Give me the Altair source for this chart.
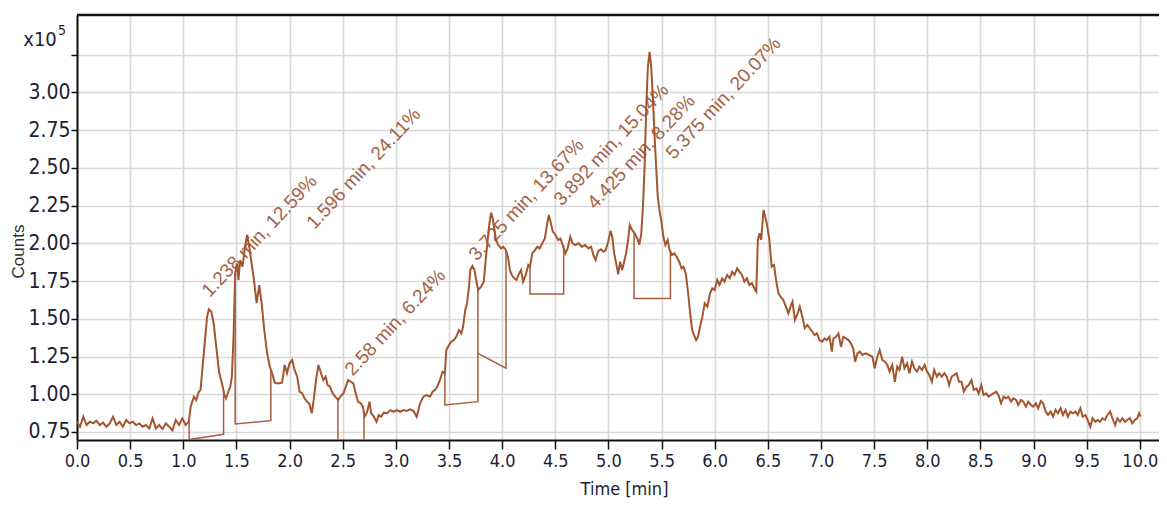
import altair as alt
import pandas as pd

# ---- chromatogram trace (time in min, counts in units of 1e5) ----
time_min = [
    0.0, 0.028, 0.059, 0.09, 0.121, 0.152, 0.183, 0.214, 0.245, 0.276, 0.308, 0.339, 0.37, 0.401,
    0.432, 0.463, 0.494, 0.525, 0.556, 0.587, 0.618, 0.649, 0.68, 0.711, 0.742, 0.774, 0.805, 0.836,
    0.867, 0.898, 0.929, 0.96, 0.991, 1.022, 1.053,
    1.069, 1.100, 1.122, 1.146, 1.162, 1.193, 1.224, 1.240, 1.264, 1.286, 1.317, 1.339, 1.364, 1.386,
    1.401, 1.420, 1.442, 1.457, 1.473, 1.488, 1.504, 1.519, 1.535, 1.557, 1.581, 1.600, 1.621, 1.643,
    1.665, 1.690, 1.715, 1.737, 1.762, 1.789, 1.814, 1.836, 1.861, 1.892, 1.929, 1.954, 1.976, 2.000,
    2.025, 2.047, 2.072, 2.094, 2.119, 2.141, 2.165, 2.187, 2.209, 2.227, 2.249, 2.271, 2.296, 2.318,
    2.339, 2.358, 2.380, 2.405, 2.429, 2.457, 2.482, 2.507, 2.529, 2.551, 2.575, 2.600, 2.622, 2.644,
    2.669, 2.690, 2.706, 2.731, 2.752, 2.768, 2.793, 2.818, 2.839, 2.861, 2.886, 2.917, 2.948, 2.979,
    3.010, 3.041, 3.072, 3.103, 3.134, 3.165, 3.196,
    3.228, 3.259, 3.290, 3.321, 3.346, 3.368, 3.389, 3.414, 3.439, 3.461, 3.475, 3.500, 3.522, 3.545,
    3.569, 3.594, 3.616, 3.632, 3.653, 3.669, 3.688, 3.700, 3.720, 3.740, 3.756, 3.774, 3.802, 3.827,
    3.848, 3.864, 3.880, 3.896, 3.911, 3.927, 3.942, 3.964, 3.989, 4.011, 4.036, 4.054, 4.073, 4.091,
    4.113, 4.135, 4.160, 4.178, 4.197, 4.222, 4.246, 4.262, 4.284, 4.309, 4.331, 4.353, 4.377, 4.402,
    4.424, 4.439, 4.455, 4.477, 4.502, 4.527, 4.548, 4.570, 4.595, 4.616, 4.641, 4.663, 4.688, 4.719,
    4.750, 4.781, 4.812, 4.837, 4.859, 4.879, 4.905, 4.930, 4.952, 4.974, 4.998, 5.020, 5.036, 5.054,
    5.073, 5.092, 5.110, 5.129, 5.148, 5.166, 5.185, 5.200, 5.222, 5.247, 5.272, 5.290, 5.309, 5.325,
    5.340, 5.356, 5.371, 5.387, 5.402, 5.418, 5.433, 5.449, 5.464, 5.480, 5.496, 5.517, 5.536, 5.557,
    5.576, 5.597, 5.619, 5.641, 5.666, 5.688, 5.706, 5.728, 5.750, 5.769, 5.788, 5.806, 5.825, 5.843,
    5.862, 5.884, 5.906, 5.931, 5.956, 5.977, 5.999, 6.024, 6.046, 6.070, 6.092, 6.117, 6.142, 6.164,
    6.186, 6.211, 6.232, 6.257, 6.279, 6.303, 6.325, 6.350, 6.372, 6.391, 6.406, 6.421, 6.437, 6.459,
    6.490, 6.514, 6.536, 6.558, 6.577, 6.599, 6.620, 6.645, 6.670, 6.692, 6.713, 6.732, 6.754, 6.775,
    6.800, 6.825, 6.847, 6.872, 6.894, 6.918, 6.940, 6.962, 6.986, 7.011, 7.033, 7.055, 7.080, 7.102,
    7.117, 7.142, 7.164, 7.188, 7.210, 7.235, 7.259, 7.281, 7.303, 7.321, 7.343, 7.365, 7.390, 7.421,
    7.452, 7.483, 7.505, 7.530, 7.552, 7.577, 7.601, 7.624, 7.645, 7.670, 7.695, 7.717, 7.738, 7.763,
    7.785, 7.810, 7.832, 7.856, 7.878, 7.903, 7.925, 7.950, 7.975, 7.997, 8.018, 8.043, 8.065, 8.090,
    8.111, 8.136, 8.161, 8.183, 8.205, 8.229, 8.254, 8.276, 8.298, 8.322, 8.344, 8.369, 8.390, 8.415,
    8.437, 8.462, 8.483, 8.508, 8.530, 8.555, 8.576, 8.601, 8.623, 8.647, 8.669, 8.694, 8.719, 8.741,
    8.763, 8.788, 8.810, 8.835, 8.856, 8.881, 8.903, 8.928, 8.950, 8.975, 8.997, 9.022, 9.043, 9.068,
    9.090, 9.114, 9.136, 9.161, 9.183, 9.207, 9.229, 9.254, 9.276, 9.301, 9.322, 9.347, 9.369, 9.394,
    9.415, 9.440, 9.462, 9.487, 9.508, 9.533, 9.555, 9.580, 9.602, 9.626, 9.648, 9.673, 9.695, 9.720,
    9.742, 9.767, 9.789, 9.813, 9.835, 9.860, 9.882, 9.906, 9.928, 9.953, 9.975, 9.993, 10.005,
]
counts_e5 = [
    0.818, 0.785, 0.851, 0.796, 0.818, 0.807, 0.825, 0.796, 0.812, 0.785, 0.807, 0.851, 0.796, 0.818,
    0.785, 0.829, 0.807, 0.818, 0.796, 0.807, 0.785, 0.796, 0.774, 0.840, 0.774, 0.796, 0.770, 0.807,
    0.785, 0.760, 0.829, 0.796, 0.840, 0.796, 0.820,
    0.918, 0.984, 0.962, 1.017, 1.028, 1.271, 1.514, 1.563, 1.547, 1.470, 1.271, 1.139, 1.072, 0.995,
    0.973, 1.010, 1.050, 1.116, 1.381, 1.801, 1.867, 1.756, 1.889, 1.845, 1.977, 2.055, 1.977, 1.867,
    1.756, 1.603, 1.723, 1.603, 1.425, 1.271, 1.183, 1.139, 1.077, 1.072, 1.077, 1.194, 1.139, 1.205,
    1.227, 1.161, 1.116, 1.017, 1.006, 0.973, 0.951, 0.935, 0.874, 0.962, 1.094, 1.194, 1.139, 1.094,
    1.116, 1.061, 1.050, 1.006, 0.984, 0.962, 0.988, 1.006, 1.050, 1.094, 1.083, 1.072, 1.006, 0.951,
    0.940, 0.918, 0.851, 0.884, 0.951, 0.874, 0.851, 0.818, 0.862, 0.851, 0.878, 0.874, 0.895, 0.884,
    0.895, 0.884, 0.895, 0.890, 0.900, 0.890, 0.851,
    0.940, 0.984, 0.995, 0.984, 1.017, 1.028, 1.050, 1.094, 1.149, 1.138, 1.293, 1.326, 1.348, 1.359,
    1.381, 1.425, 1.403, 1.447, 1.558, 1.600, 1.712, 1.823, 1.850, 1.823, 1.757, 1.690, 1.712, 1.745,
    1.911, 2.022, 2.132, 2.202, 2.165, 2.092, 2.022, 1.988, 1.966, 1.977, 1.955, 1.911, 1.823, 1.790,
    1.768, 1.757, 1.800, 1.823, 1.745, 1.790, 1.856, 1.845, 1.933, 1.955, 1.977, 1.966, 2.000, 2.032,
    2.132, 2.187, 2.143, 2.077, 2.055, 2.022, 2.032, 1.988, 1.933, 1.966, 2.043, 2.000, 1.988, 2.000,
    1.977, 1.988, 1.966, 1.977, 1.922, 1.889, 1.950, 1.960, 1.944, 1.955, 2.010, 2.082, 2.043, 1.933,
    1.867, 1.795, 1.878, 1.823, 1.878, 1.933, 2.022, 2.121, 2.088, 2.066, 2.032, 1.990, 2.066, 2.242,
    2.507, 2.904, 3.169, 3.268, 3.169, 2.970, 2.728, 2.507, 2.308, 2.220, 2.154, 2.043, 1.988, 2.022,
    1.955, 1.922, 1.933, 1.911, 1.878, 1.834, 1.845, 1.800, 1.669, 1.536, 1.425, 1.392, 1.359, 1.381,
    1.447, 1.514, 1.602, 1.580, 1.669, 1.702, 1.690, 1.757, 1.724, 1.768, 1.746, 1.790, 1.768, 1.812,
    1.790, 1.834, 1.812, 1.790, 1.746, 1.768, 1.724, 1.735, 1.702, 1.680, 2.022, 2.066, 2.022, 2.220,
    2.132, 2.022, 1.845, 1.856, 1.757, 1.669, 1.646, 1.624, 1.580, 1.536, 1.580, 1.613, 1.492, 1.525,
    1.580, 1.514, 1.437, 1.459, 1.437, 1.414, 1.392, 1.403, 1.359, 1.348, 1.370, 1.359, 1.381, 1.282,
    1.370, 1.381, 1.403, 1.315, 1.381, 1.370, 1.359, 1.337, 1.304, 1.216, 1.271, 1.282, 1.260, 1.271,
    1.260, 1.249, 1.172, 1.249, 1.293, 1.227, 1.216, 1.194, 1.150, 1.194, 1.083, 1.183, 1.161, 1.249,
    1.172, 1.205, 1.139, 1.216, 1.172, 1.150, 1.183, 1.161, 1.194, 1.150, 1.128, 1.083, 1.161, 1.117,
    1.139, 1.117, 1.139, 1.117, 1.061, 1.117, 1.128, 1.139, 1.083, 1.083, 1.017, 1.050, 1.061, 1.094,
    1.028, 1.039, 1.006, 1.061, 0.995, 1.006, 0.984, 0.995, 1.006, 1.017, 0.995, 0.940, 0.984, 0.973,
    0.984, 0.951, 0.973, 0.962, 0.929, 0.962, 0.951, 0.918, 0.951, 0.929, 0.918, 0.940, 0.907, 0.955,
    0.940, 0.885, 0.863, 0.885, 0.851, 0.896, 0.874, 0.907, 0.863, 0.896, 0.851, 0.885, 0.874, 0.885,
    0.863, 0.907, 0.851, 0.863, 0.830, 0.785, 0.841, 0.818, 0.830, 0.818, 0.841, 0.830, 0.863, 0.885,
    0.841, 0.796, 0.841, 0.818, 0.841, 0.818, 0.830, 0.841, 0.807, 0.830, 0.841, 0.874, 0.852,
]

# ---- peak annotations ----
peak_labels = ["1.238 min, 12.59%", "1.596 min, 24.11%", "2.58 min, 6.24%", "3.725 min, 13.67%",
               "3.892 min, 15.04%", "4.425 min, 8.28%", "5.375 min, 20.07%"]
label_t = [1.25, 2.235, 2.595, 3.76, 4.56, 4.875, 5.615]
label_v = [1.637, 2.088, 1.116, 1.878, 2.242, 2.22, 2.55]

# ---- integration baselines (drop lines + baseline) ----
base_peak = [1, 1, 1, 1, 2, 2, 2, 2, 3, 3, 3, 3, 4, 4, 4, 4, 5, 5, 5, 6, 6, 6, 6, 7, 7, 7, 7]
base_t = [1.055, 1.055, 1.379, 1.379,
          1.488, 1.488, 1.824, 1.824,
          2.455, 2.455, 2.700, 2.700,
          3.461, 3.461, 3.772, 3.772,
          3.772, 4.036, 4.036,
          4.262, 4.262, 4.579, 4.579,
          5.241, 5.241, 5.583, 5.583]
base_v = [0.830, 0.700, 0.735, 1.028,
          1.801, 0.803, 0.825, 1.161,
          0.962, 0.600, 0.600, 0.890,
          1.138, 0.929, 0.951, 1.690,
          1.271, 1.172, 1.955,
          1.845, 1.664, 1.664, 1.988,
          2.070, 1.635, 1.635, 1.955]

x_ticks = [0.0, 0.5, 1.0, 1.5, 2.0, 2.5, 3.0, 3.5, 4.0, 4.5, 5.0, 5.5, 6.0, 6.5, 7.0, 7.5, 8.0,
           8.5, 9.0, 9.5, 10.0]
y_ticks = [0.75, 1.0, 1.25, 1.5, 1.75, 2.0, 2.25, 2.5, 2.75, 3.0, 3.25]

X_DOMAIN = [0.0, 10.18]
Y_DOMAIN = [0.697, 3.512]

TRACE = "#A3552F"
LABEL = "#A4644A"
TICKFONT = "Liberation Sans Narrow, Arial Narrow, DejaVu Sans Condensed, sans-serif"
TEXTFONT = "Liberation Sans, Arial, sans-serif"
INK = "#1e1e36"
W, H = 1082, 425

trace_df = pd.DataFrame({"t": time_min, "v": counts_e5})
label_df = pd.DataFrame({"t": label_t, "v": label_v, "s": peak_labels})
base_df = pd.DataFrame({"peak": base_peak, "t": base_t, "v": base_v,
                        "i": list(range(len(base_t)))})
top_df = pd.DataFrame({"v": [Y_DOMAIN[1]]})

xs = alt.Scale(domain=X_DOMAIN, nice=False, zero=False)
ys = alt.Scale(domain=Y_DOMAIN, nice=False, zero=False)

x_axis = alt.Axis(values=x_ticks, format=".1f", title="Time [min]", grid=True,
                  gridColor="#d9d9d9", gridWidth=1.7, domainColor="#111111", domainWidth=2,
                  tickColor="#111111", tickWidth=1.5, tickSize=9, labelPadding=3,
                  labelFont=TICKFONT, labelFontSize=18, labelColor=INK,
                  titleFont=TICKFONT, titleFontSize=18, titleFontWeight="normal",
                  titleColor=INK, titleX=547, titleY=54, titleAnchor="middle",
                  titleBaseline="alphabetic", labelFlush=False)
y_axis = alt.Axis(values=y_ticks, title="Counts", grid=True,
                  labelExpr="datum.value > 3.1 ? '' : format(datum.value, '.2f')",
                  gridColor="#d9d9d9", gridWidth=1.7, domainColor="#111111", domainWidth=2,
                  tickColor="#111111", tickWidth=1.5, tickSize=6, labelPadding=1,
                  labelFont=TICKFONT, labelFontSize=21, labelColor=INK,
                  titleFont=TEXTFONT, titleFontSize=17, titleFontWeight="normal",
                  titleColor="#2e2e2e", titleAngle=270, titleX=-59, titleY=236,
                  titleAlign="center", titleBaseline="middle", labelFlush=False)

X = alt.X("t:Q", scale=xs, axis=x_axis)
Y = alt.Y("v:Q", scale=ys, axis=y_axis)

trace = alt.Chart(trace_df).mark_line(color=TRACE, strokeWidth=2, clip=True).encode(x=X, y=Y)

baselines = alt.Chart(base_df).mark_line(color="#A85E3C", strokeWidth=1.5, clip=True).encode(
    x=X, y=Y, detail="peak:N", order="i:Q")

labels = alt.Chart(label_df).mark_text(angle=313, align="left", baseline="alphabetic",
                                       font=TEXTFONT, fontSize=19, color=LABEL).encode(
    x=X, y=Y, text="s:N")

top_border = alt.Chart(top_df).mark_rule(color="#111111", strokeWidth=2.5).encode(y=Y)

exp_base = alt.Chart(pd.DataFrame({"s": ["x10"]})).mark_text(
    font=TICKFONT, fontSize=20, color=INK, align="center", baseline="middle").encode(
    x=alt.value(-37), y=alt.value(25), text="s:N")
exp_pow = alt.Chart(pd.DataFrame({"s": ["5"]})).mark_text(
    font=TICKFONT, fontSize=14, color=INK, align="center", baseline="middle").encode(
    x=alt.value(-15), y=alt.value(16), text="s:N")

chart = alt.layer(labels, trace, baselines, top_border, exp_base, exp_pow).properties(
    width=W, height=H,
    autosize=alt.AutoSizeParams(type="none"),
    padding={"left": 69, "top": 7, "right": 0, "bottom": 60},
).configure_view(strokeWidth=0)

chart.save("out.html", embed_options={"renderer": "svg", "actions": False})
